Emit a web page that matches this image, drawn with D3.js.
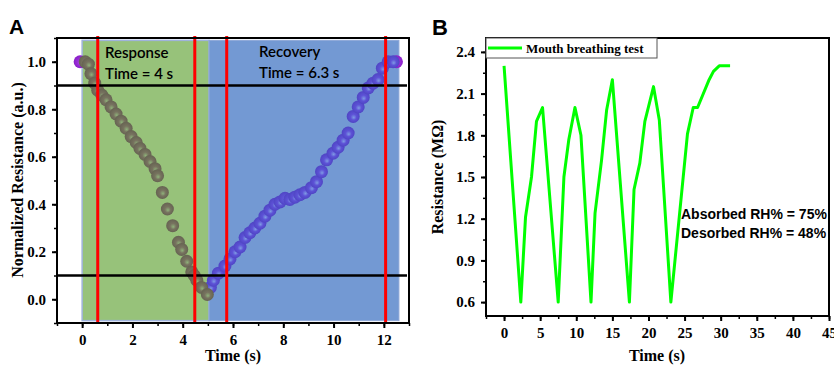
<!DOCTYPE html>
<html>
<head>
<meta charset="utf-8">
<script src="https://cdn.jsdelivr.net/npm/d3@7"></script>
<style>
  body { margin: 0; background: #fff; }
  svg { display: block; }
  .tick text { font-family: "Liberation Serif", serif; font-weight: bold; font-size: 15px; fill: #000; }
</style>
</head>
<body>
<svg id="chart" width="834" height="365"></svg>
<script>
// ---- panel A data ----
var respTime  = [0.12, 0.25, 0.35, 0.5, 0.62, 0.78, 0.95, 1.15, 1.35, 1.55, 1.75, 1.95, 2.15, 2.3, 2.5, 2.7, 2.9, 3.0, 3.19, 3.39, 3.6, 3.83, 3.96, 4.16, 4.36, 4.46, 4.56, 4.75, 4.98];
var respValue = [1.0, 0.99, 0.95, 0.91, 0.88, 0.86, 0.84, 0.81, 0.78, 0.75, 0.72, 0.685, 0.66, 0.635, 0.61, 0.58, 0.55, 0.52, 0.45, 0.38, 0.31, 0.24, 0.21, 0.16, 0.115, 0.1, 0.08, 0.05, 0.02];
var recTime   = [5.1, 5.22, 5.42, 5.68, 5.88, 6.08, 6.28, 6.48, 6.67, 6.87, 7.07, 7.27, 7.47, 7.67, 7.87, 8.07, 8.26, 8.46, 8.66, 8.86, 9.12, 9.32, 9.52, 9.72, 9.98, 10.18, 10.38, 10.58, 10.78, 10.98, 11.18, 11.38, 11.57, 11.77, 11.94, 12.17, 12.37];
var recValue  = [0.05, 0.08, 0.11, 0.14, 0.17, 0.2, 0.22, 0.26, 0.28, 0.3, 0.32, 0.35, 0.375, 0.4, 0.41, 0.425, 0.42, 0.43, 0.44, 0.45, 0.47, 0.495, 0.537, 0.587, 0.615, 0.64, 0.67, 0.7, 0.77, 0.81, 0.85, 0.89, 0.91, 0.925, 0.973, 1.0, 1.0];
var edgeTime  = [-0.08, 12.5];
var edgeValue = [1.0, 1.0];
var responseSpan = [0, 5.05];
var recoverySpan = [5.05, 12.6];
var levelLines = [0.9, 0.1];
var redLines = [0.62, 4.48, 5.75, 12.07];
var ticksAx = [0, 2, 4, 6, 8, 10, 12];
var ticksAy = [0.0, 0.2, 0.4, 0.6, 0.8, 1.0];

// ---- panel B data ----
var bTime  = [0, 2.32, 2.97, 3.8, 4.49, 5.33, 7.5, 8.29, 8.97, 9.82, 10.65, 12.04, 12.6, 13.5, 14.2, 15.0, 17.36, 18.0, 18.8, 19.5, 20.7, 21.5, 23.1, 25.4, 26.2, 26.8, 28.4, 29.0, 29.8, 31.3];
var bValue = [2.3, 0.6, 1.21, 1.5, 1.9, 2.0, 0.6, 1.5, 1.77, 2.0, 1.8, 0.6, 1.24, 1.62, 1.98, 2.2, 0.6, 1.41, 1.6, 1.9, 2.15, 1.91, 0.6, 1.81, 2.0, 2.0, 2.2, 2.26, 2.3, 2.3];
var ticksBx = [0, 5, 10, 15, 20, 25, 30, 35, 40, 45];
var ticksBy = [0.6, 0.9, 1.2, 1.5, 1.8, 2.1, 2.4];

var svg = d3.select("#chart");
var defs = svg.append("defs");

function sphere(id, hi, base, edge) {
  var g = defs.append("radialGradient").attr("id", id)
    .attr("cx", "50%").attr("cy", "50%").attr("r", "50%")
    .attr("fx", "55%").attr("fy", "60%");
  g.append("stop").attr("offset", "0%").attr("stop-color", hi);
  g.append("stop").attr("offset", "45%").attr("stop-color", base);
  g.append("stop").attr("offset", "100%").attr("stop-color", edge);
}
sphere("gGrey", "#8fb27a", "#77735f", "#666352");
sphere("gBlue", "#7f9be4", "#5d52d6", "#4f45c4");
sphere("gPurp", "#c070f0", "#9a2ed8", "#8a1fc8");

// ================= Panel A =================
var xA = d3.scaleLinear().domain([-1, 13]).range([57, 409]);
var yA = d3.scaleLinear().domain([-0.1, 1.1]).range([323, 38]);
var A = svg.append("g");

A.append("rect")
  .attr("x", xA(responseSpan[0])).attr("y", yA(1.09))
  .attr("width", xA(responseSpan[1]) - xA(responseSpan[0]))
  .attr("height", yA(-0.09) - yA(1.09))
  .attr("fill", "#97c27a").attr("stroke", "#9fb3dc").attr("stroke-width", 1.5);
A.append("rect")
  .attr("x", xA(recoverySpan[0])).attr("y", yA(1.09))
  .attr("width", xA(recoverySpan[1]) - xA(recoverySpan[0]))
  .attr("height", yA(-0.09) - yA(1.09))
  .attr("fill", "#7399d3").attr("stroke", "#8ea8d8").attr("stroke-width", 1);

A.selectAll("circle.edge").data(edgeTime).join("circle")
  .attr("class", "edge")
  .attr("cx", function (d) { return xA(d); })
  .attr("cy", function (d, i) { return yA(edgeValue[i]); })
  .attr("r", 6.5).attr("fill", "url(#gPurp)");

A.selectAll("circle.rec").data(recTime).join("circle")
  .attr("class", "rec")
  .attr("cx", function (d) { return xA(d); })
  .attr("cy", function (d, i) { return yA(recValue[i]); })
  .attr("r", 6.5).attr("fill", "url(#gBlue)");

A.selectAll("circle.resp").data(respTime).join("circle")
  .attr("class", "resp")
  .attr("cx", function (d) { return xA(d); })
  .attr("cy", function (d, i) { return yA(respValue[i]); })
  .attr("r", 6.5).attr("fill", "url(#gGrey)");

A.selectAll("line.level").data(levelLines).join("line")
  .attr("x1", 57).attr("x2", 407)
  .attr("y1", function (d) { return yA(d); })
  .attr("y2", function (d) { return yA(d); })
  .attr("stroke", "#000").attr("stroke-width", 2.5);

A.selectAll("line.red").data(redLines).join("line")
  .attr("x1", function (d) { return xA(d); })
  .attr("x2", function (d) { return xA(d); })
  .attr("y1", 36).attr("y2", 322)
  .attr("stroke", "#ff0000").attr("stroke-width", 3);

// frame
A.append("rect").attr("x", 57).attr("y", 38).attr("width", 352).attr("height", 285)
  .attr("fill", "none").attr("stroke", "#000").attr("stroke-width", 2);

// axes
A.append("g").attr("transform", "translate(0,323)")
  .call(d3.axisBottom(xA).tickValues(d3.range(-1, 14, 1)).tickSize(3).tickFormat(""))
  .call(function (g) { g.select(".domain").remove(); g.selectAll("line").attr("stroke-width", 1.5); });
A.append("g").attr("transform", "translate(0,323)")
  .call(d3.axisBottom(xA).tickValues(ticksAx).tickSize(5).tickPadding(6).tickFormat(d3.format("d")))
  .call(function (g) { g.select(".domain").remove(); g.selectAll("line").attr("stroke-width", 2); });
A.append("g").attr("transform", "translate(57,0)")
  .call(d3.axisLeft(yA).tickValues(d3.range(-0.1, 1.11, 0.1)).tickSize(3).tickFormat(""))
  .call(function (g) { g.select(".domain").remove(); g.selectAll("line").attr("stroke-width", 1.5); });
A.append("g").attr("transform", "translate(57,0)")
  .call(d3.axisLeft(yA).tickValues(ticksAy).tickSize(5).tickPadding(6).tickFormat(d3.format(".1f")))
  .call(function (g) { g.select(".domain").remove(); g.selectAll("line").attr("stroke-width", 2); });

A.append("text").attr("x", 105).attr("y", 58)
  .style("font-family", "Lato, sans-serif").style("font-size", "15px").style("font-weight", "600")
  .text("Response");
A.append("text").attr("x", 105).attr("y", 79)
  .style("font-family", "Lato, sans-serif").style("font-size", "15px").style("font-weight", "600")
  .text("Time = 4 s");
A.append("text").attr("x", 259).attr("y", 57)
  .style("font-family", "Lato, sans-serif").style("font-size", "15px").style("font-weight", "600")
  .text("Recovery");
A.append("text").attr("x", 259).attr("y", 78)
  .style("font-family", "Lato, sans-serif").style("font-size", "15px").style("font-weight", "600")
  .text("Time = 6.3 s");

A.append("text").attr("x", 233).attr("y", 361).attr("text-anchor", "middle")
  .style("font-family", "Liberation Serif, serif").style("font-weight", "bold").style("font-size", "16px")
  .text("Time (s)");
A.append("text").attr("transform", "translate(23,180) rotate(-90)").attr("text-anchor", "middle")
  .style("font-family", "Liberation Serif, serif").style("font-weight", "bold").style("font-size", "16px")
  .text("Normalized Resistance (a.u.)");
A.append("text").attr("x", 9).attr("y", 34)
  .style("font-family", "Liberation Sans, sans-serif").style("font-weight", "bold").style("font-size", "21px")
  .text("A");

// ================= Panel B =================
var xB = d3.scaleLinear().domain([-2.5, 45]).range([486, 829]);
var yB = d3.scaleLinear().domain([0.5, 2.5]).range([316, 38]);
var B = svg.append("g");

B.append("path")
  .attr("d", d3.line().x(function (d) { return xB(d); }).y(function (d, i) { return yB(bValue[i]); })(bTime))
  .attr("fill", "none").attr("stroke", "#00ff00").attr("stroke-width", 3).attr("stroke-linejoin", "round");

B.append("rect").attr("x", 486).attr("y", 38).attr("width", 343).attr("height", 278)
  .attr("fill", "none").attr("stroke", "#000").attr("stroke-width", 2);

B.append("g").attr("transform", "translate(0,316)")
  .call(d3.axisBottom(xB).tickValues(d3.range(-2.5, 45.1, 2.5)).tickSize(3).tickFormat(""))
  .call(function (g) { g.select(".domain").remove(); g.selectAll("line").attr("stroke-width", 1.5); });
B.append("g").attr("transform", "translate(0,316)")
  .call(d3.axisBottom(xB).tickValues(ticksBx).tickSize(5).tickPadding(6).tickFormat(d3.format("d")))
  .call(function (g) { g.select(".domain").remove(); g.selectAll("line").attr("stroke-width", 2); });
B.append("g").attr("transform", "translate(486,0)")
  .call(d3.axisLeft(yB).tickValues(d3.range(0.6, 2.5, 0.15)).tickSize(3).tickFormat(""))
  .call(function (g) { g.select(".domain").remove(); g.selectAll("line").attr("stroke-width", 1.5); });
B.append("g").attr("transform", "translate(486,0)")
  .call(d3.axisLeft(yB).tickValues(ticksBy).tickSize(5).tickPadding(6).tickFormat(d3.format(".1f")))
  .call(function (g) { g.select(".domain").remove(); g.selectAll("line").attr("stroke-width", 2); });

// legend
var leg = B.append("g");
leg.append("rect").attr("x", 486).attr("y", 38).attr("width", 171).attr("height", 20)
  .attr("fill", "#fff").attr("stroke", "#555").attr("stroke-width", 1);
leg.append("line").attr("x1", 488).attr("x2", 522).attr("y1", 48).attr("y2", 48)
  .attr("stroke", "#00ff00").attr("stroke-width", 3);
leg.append("text").attr("x", 526).attr("y", 53)
  .style("font-family", "Liberation Serif, serif").style("font-weight", "bold").style("font-size", "13px")
  .text("Mouth breathing test");

B.append("text").attr("x", 681).attr("y", 219)
  .style("font-family", "Liberation Sans, sans-serif").style("font-weight", "bold").style("font-size", "14px")
  .text("Absorbed RH% = 75%");
B.append("text").attr("x", 681).attr("y", 238)
  .style("font-family", "Liberation Sans, sans-serif").style("font-weight", "bold").style("font-size", "14px")
  .text("Desorbed RH% = 48%");

B.append("text").attr("x", 657).attr("y", 361).attr("text-anchor", "middle")
  .style("font-family", "Liberation Serif, serif").style("font-weight", "bold").style("font-size", "16px")
  .text("Time (s)");
B.append("text").attr("transform", "translate(443,177) rotate(-90)").attr("text-anchor", "middle")
  .style("font-family", "Liberation Serif, serif").style("font-weight", "bold").style("font-size", "16px")
  .text("Resistance (MΩ)");
B.append("text").attr("x", 432).attr("y", 35)
  .style("font-family", "Liberation Sans, sans-serif").style("font-weight", "bold").style("font-size", "22px")
  .text("B");
</script>
</body>
</html>
